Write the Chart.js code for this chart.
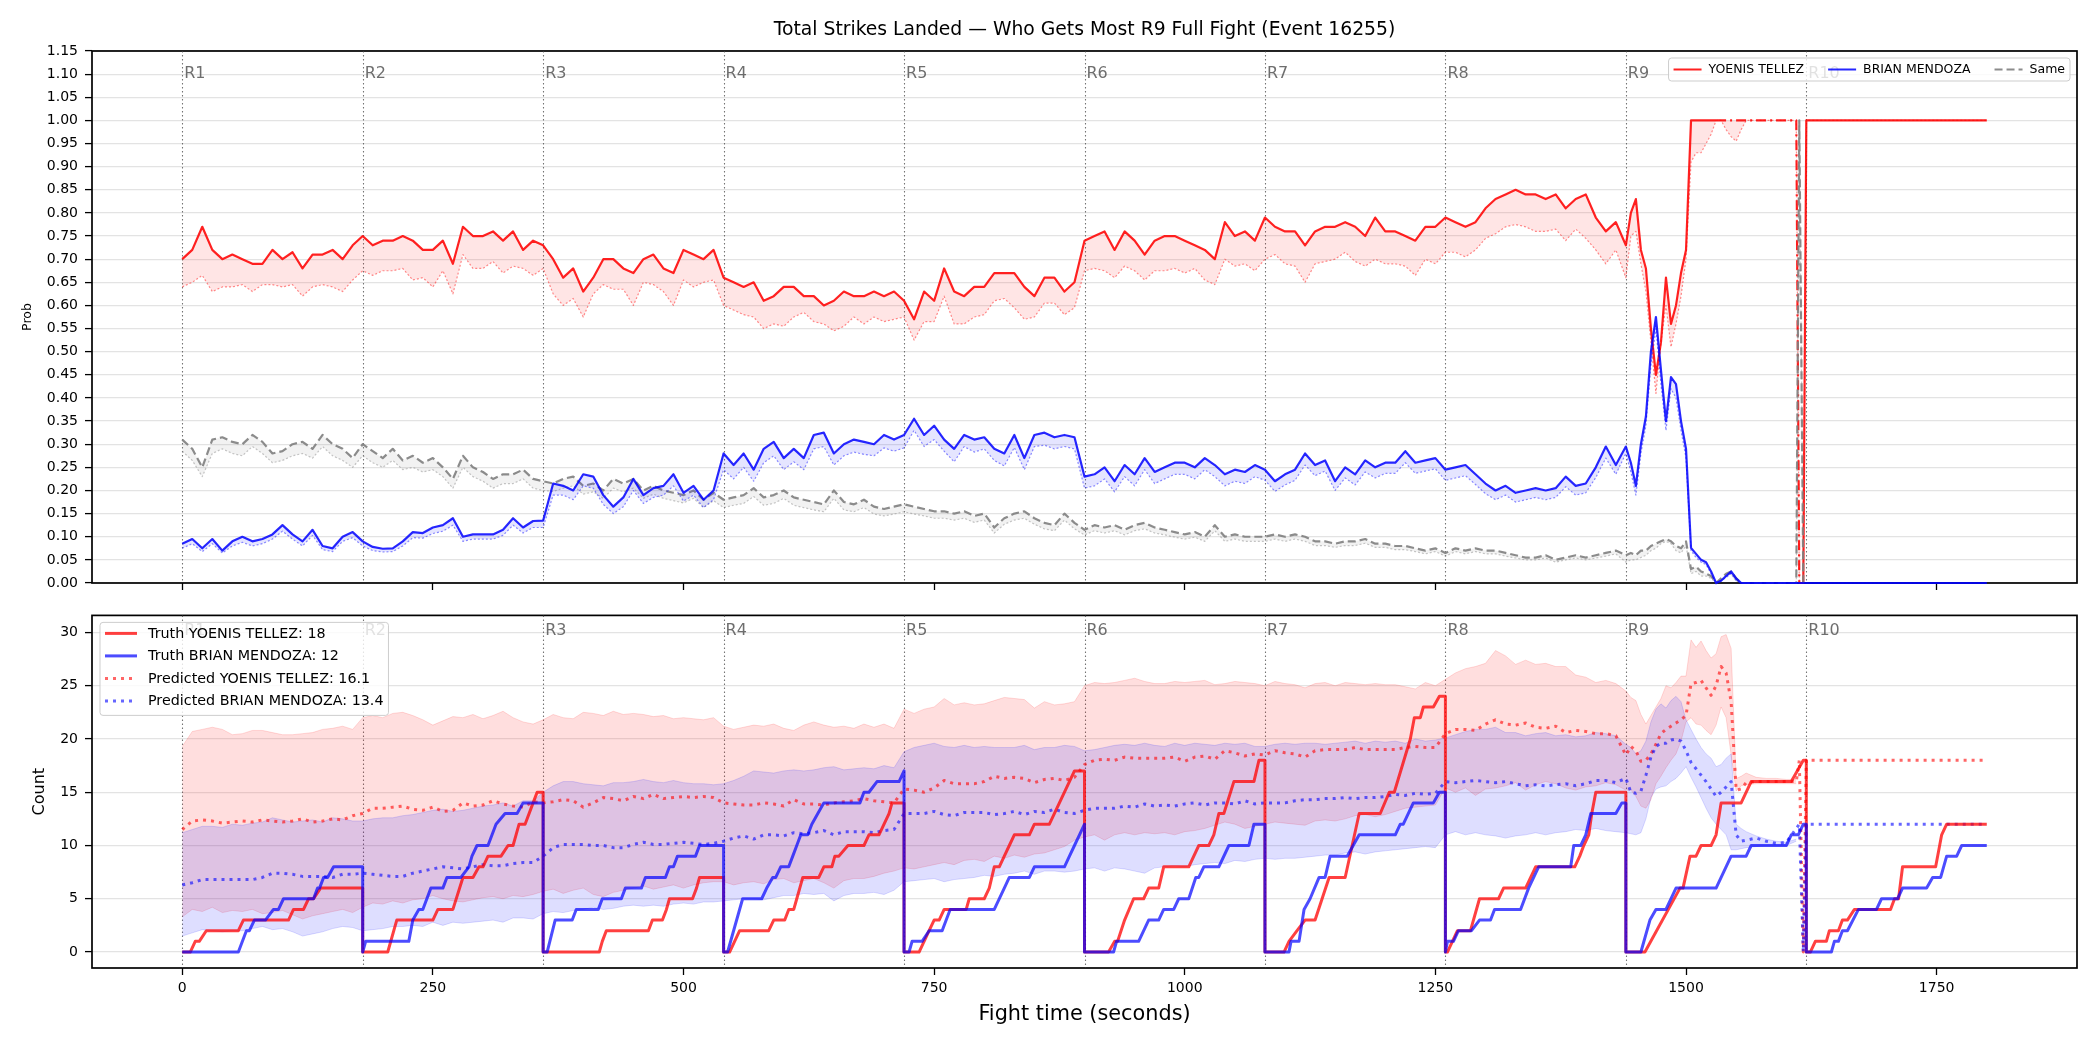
<!DOCTYPE html>
<html>
<head>
<meta charset="utf-8">
<script src="https://cdn.jsdelivr.net/npm/chart.js@4.4.1/dist/chart.umd.min.js"></script>
<style>
  html, body { margin: 0; padding: 0; background: #fff; }
  #wrap { position: relative; width: 2100px; height: 1050px; }
  canvas { position: absolute; left: 0; }
  #topChart { top: 0; }
  #botChart { top: 600px; }
</style>
</head>
<body>
<div id="wrap">
  <canvas id="topChart" width="2100" height="600" style="width:2100px;height:600px"></canvas>
  <canvas id="botChart" width="2100" height="450" style="width:2100px;height:450px"></canvas>
</div>
<script>
const $ = (s) => document.querySelector(s);

/* ---- Texts ---- */
const TITLE = "Total Strikes Landed \u2014 Who Gets Most R9 Full Fight (Event 16255)";
const TOP_LEGEND = ["YOENIS TELLEZ", "BRIAN MENDOZA", "Same"];
const BOT_LEGEND = ["Truth YOENIS TELLEZ: 18", "Truth BRIAN MENDOZA: 12", "Predicted YOENIS TELLEZ: 16.1", "Predicted BRIAN MENDOZA: 13.4"];
const ROUND_T = [0, 180, 360, 540, 720, 900, 1080, 1260, 1440, 1620];
const ROUND_NAMES = ["R1", "R2", "R3", "R4", "R5", "R6", "R7", "R8", "R9", "R10"];
const X_TICKS = [0, 250, 500, 750, 1000, 1250, 1500, 1750];
const TOP_Y_TICKS = [0, 0.05, 0.1, 0.15, 0.2, 0.25, 0.3, 0.35, 0.4, 0.45, 0.5, 0.55, 0.6, 0.65, 0.7, 0.75, 0.8, 0.85, 0.9, 0.95, 1.0, 1.05, 1.1, 1.15];
const BOT_Y_TICKS = [0, 5, 10, 15, 20, 25, 30];

/* ---- Sample times (seconds) shared by sampled series ---- */
const T = [
  0,10,20,30,40,50,60,70,80,90,100,110,120,130,140,150,160,170,
  180,190,200,210,220,230,240,250,260,270,280,290,300,310,320,330,340,350,
  360,370,380,390,400,410,420,430,440,450,460,470,480,490,500,510,520,530,
  540,550,560,570,580,590,600,610,620,630,640,650,660,670,680,690,700,710,
  720,730,740,750,760,770,780,790,800,810,820,830,840,850,860,870,880,890,
  900,910,920,930,940,950,960,970,980,990,1000,1010,1020,1030,1040,1050,1060,1070,
  1080,1090,1100,1110,1120,1130,1140,1150,1160,1170,1180,1190,1200,1210,1220,1230,1240,1250,
  1260,1270,1280,1290,1300,1310,1320,1330,1340,1350,1360,1370,1380,1390,1400,1410,1420,1430,
  1440,1445,1450,1455,1460,1465,1470,1475,1480,1485,1490,1495,1500,1505,1510,1515,1520,1525,1530,1535,1540,1545,1550,1555,1560,
  1570,1580,1590,1600,1610,1613,1617,1620,1800
];

/* ---- Top panel: probabilities ---- */
const P_RED = [
  0.70,0.72,0.77,0.72,0.70,0.71,0.70,0.69,0.69,0.72,0.70,0.715,0.68,0.71,0.71,0.72,0.70,0.73,
  0.75,0.73,0.74,0.74,0.75,0.74,0.72,0.72,0.74,0.69,0.77,0.75,0.75,0.76,0.74,0.76,0.72,0.74,
  0.73,0.70,0.66,0.68,0.63,0.66,0.70,0.70,0.68,0.67,0.70,0.71,0.68,0.67,0.72,0.71,0.70,0.72,
  0.66,0.65,0.64,0.65,0.61,0.62,0.64,0.64,0.62,0.62,0.60,0.61,0.63,0.62,0.62,0.63,0.62,0.63,
  0.61,0.57,0.63,0.61,0.68,0.63,0.62,0.64,0.64,0.67,0.67,0.67,0.64,0.62,0.66,0.66,0.63,0.65,
  0.74,0.75,0.76,0.72,0.76,0.74,0.71,0.74,0.75,0.75,0.74,0.73,0.72,0.70,0.78,0.75,0.76,0.74,
  0.79,0.77,0.76,0.76,0.73,0.76,0.77,0.77,0.78,0.77,0.75,0.79,0.76,0.76,0.75,0.74,0.77,0.77,
  0.79,0.78,0.77,0.78,0.81,0.83,0.84,0.85,0.84,0.84,0.83,0.84,0.81,0.83,0.84,0.79,0.76,0.78,
  0.73,0.80,0.83,0.72,0.68,0.55,0.45,0.52,0.66,0.56,0.60,0.67,0.72,1,1,1,1,1,1,1,1,1,1,1,1,
  1,1,1,1,1,0,0,1,1
];
const P_RED_LO = [
  0.64,0.65,0.665,0.63,0.64,0.64,0.645,0.63,0.645,0.645,0.64,0.645,0.62,0.64,0.645,0.64,0.63,0.655,
  0.675,0.665,0.675,0.675,0.68,0.655,0.66,0.64,0.675,0.625,0.71,0.68,0.68,0.695,0.67,0.685,0.68,0.665,
  0.68,0.625,0.60,0.615,0.575,0.625,0.645,0.635,0.635,0.60,0.65,0.645,0.63,0.60,0.655,0.64,0.65,0.655,
  0.60,0.59,0.58,0.575,0.55,0.56,0.555,0.575,0.585,0.565,0.56,0.545,0.555,0.575,0.56,0.575,0.565,0.57,
  0.575,0.525,0.565,0.565,0.62,0.56,0.56,0.575,0.58,0.61,0.615,0.595,0.57,0.575,0.605,0.605,0.58,0.595,
  0.675,0.68,0.675,0.66,0.685,0.675,0.655,0.675,0.675,0.68,0.67,0.68,0.655,0.645,0.70,0.685,0.69,0.675,
  0.70,0.71,0.69,0.685,0.65,0.69,0.695,0.70,0.715,0.695,0.685,0.70,0.69,0.69,0.685,0.665,0.70,0.69,
  0.715,0.715,0.705,0.72,0.745,0.755,0.77,0.775,0.77,0.76,0.76,0.765,0.74,0.765,0.745,0.72,0.69,0.72,
  0.66,0.75,0.76,0.69,0.63,0.52,0.41,0.52,0.60,0.51,0.56,0.62,0.70,0.91,0.93,0.93,0.95,0.97,1,1,0.98,0.965,0.955,0.98,1,
  1,1,1,1,1,0,0,1,1
];
const P_BLUE = [
  0.085,0.095,0.075,0.095,0.07,0.09,0.10,0.09,0.095,0.105,0.125,0.105,0.09,0.115,0.08,0.075,0.10,0.11,
  0.09,0.078,0.074,0.075,0.09,0.11,0.108,0.12,0.125,0.14,0.10,0.105,0.105,0.105,0.115,0.14,0.12,0.134,
  0.135,0.215,0.21,0.20,0.235,0.23,0.19,0.165,0.185,0.225,0.19,0.205,0.21,0.235,0.195,0.21,0.18,0.20,
  0.28,0.255,0.28,0.245,0.29,0.305,0.27,0.29,0.27,0.32,0.325,0.28,0.30,0.31,0.305,0.30,0.32,0.31,
  0.32,0.355,0.32,0.34,0.31,0.29,0.32,0.31,0.315,0.29,0.28,0.32,0.27,0.32,0.325,0.315,0.32,0.315,
  0.23,0.235,0.25,0.22,0.255,0.235,0.27,0.24,0.25,0.26,0.26,0.25,0.27,0.255,0.235,0.245,0.24,0.255,
  0.245,0.22,0.235,0.245,0.28,0.255,0.265,0.22,0.25,0.235,0.265,0.25,0.26,0.26,0.285,0.26,0.265,0.27,
  0.245,0.25,0.255,0.235,0.215,0.20,0.21,0.195,0.20,0.205,0.20,0.205,0.23,0.21,0.215,0.25,0.295,0.255,
  0.295,0.26,0.21,0.30,0.36,0.50,0.575,0.46,0.35,0.445,0.43,0.35,0.29,0.076,0.063,0.05,0.045,0.025,0,0.005,0.015,0.025,0.01,0,0,
  0,0,0,0,0,0,0,0,0
];
const P_BLUE_LO = [
  0.075,0.085,0.068,0.085,0.065,0.08,0.088,0.08,0.085,0.095,0.112,0.095,0.08,0.103,0.072,0.068,0.09,0.098,
  0.08,0.07,0.067,0.068,0.08,0.098,0.097,0.107,0.112,0.125,0.09,0.095,0.095,0.095,0.103,0.125,0.108,0.12,
  0.12,0.19,0.19,0.18,0.21,0.205,0.17,0.15,0.165,0.20,0.172,0.185,0.19,0.21,0.177,0.19,0.163,0.18,
  0.245,0.225,0.25,0.22,0.26,0.275,0.245,0.262,0.245,0.29,0.295,0.255,0.275,0.283,0.278,0.275,0.292,0.285,
  0.292,0.33,0.295,0.31,0.285,0.262,0.295,0.283,0.29,0.265,0.253,0.293,0.245,0.295,0.298,0.29,0.295,0.29,
  0.205,0.21,0.225,0.197,0.23,0.21,0.245,0.215,0.225,0.235,0.235,0.225,0.245,0.23,0.21,0.22,0.215,0.23,
  0.222,0.198,0.212,0.222,0.255,0.232,0.242,0.2,0.227,0.212,0.24,0.227,0.237,0.237,0.26,0.237,0.242,0.247,
  0.222,0.227,0.232,0.213,0.193,0.18,0.19,0.175,0.18,0.185,0.18,0.185,0.208,0.19,0.195,0.228,0.27,0.235,
  0.28,0.24,0.19,0.28,0.34,0.47,0.55,0.43,0.33,0.42,0.40,0.33,0.27,0.07,0.055,0.045,0.04,0.02,0,0.005,0.012,0.02,0.005,0,0,
  0,0,0,0,0,0,0,0,0
];
const P_SAME = [
  0.31,0.29,0.25,0.31,0.315,0.305,0.30,0.32,0.305,0.28,0.285,0.30,0.305,0.29,0.32,0.30,0.29,0.27,
  0.30,0.285,0.27,0.29,0.265,0.275,0.26,0.27,0.25,0.225,0.275,0.25,0.24,0.225,0.235,0.235,0.245,0.225,
  0.22,0.215,0.225,0.23,0.21,0.215,0.20,0.225,0.215,0.225,0.20,0.21,0.20,0.195,0.19,0.20,0.18,0.195,
  0.18,0.185,0.19,0.205,0.185,0.19,0.20,0.185,0.18,0.175,0.17,0.20,0.175,0.17,0.18,0.165,0.16,0.165,
  0.17,0.165,0.16,0.155,0.155,0.15,0.155,0.145,0.15,0.12,0.14,0.15,0.155,0.14,0.13,0.125,0.15,0.13,
  0.115,0.125,0.12,0.125,0.115,0.125,0.13,0.12,0.115,0.11,0.105,0.11,0.10,0.125,0.10,0.105,0.10,0.10,
  0.10,0.105,0.10,0.105,0.10,0.09,0.09,0.085,0.09,0.09,0.095,0.085,0.085,0.08,0.08,0.075,0.07,0.075,
  0.065,0.075,0.07,0.075,0.07,0.07,0.065,0.06,0.055,0.055,0.06,0.05,0.055,0.06,0.055,0.06,0.065,0.07,
  0.06,0.065,0.06,0.07,0.07,0.08,0.085,0.09,0.095,0.09,0.08,0.075,0.09,0.03,0.035,0.025,0.02,0.015,0,0.01,0.02,0.025,0.01,0,0,
  0,0,0,0,0,1,0,null,null
];
const P_SAME_LO = [
  0.285,0.265,0.23,0.28,0.29,0.28,0.275,0.295,0.28,0.26,0.265,0.275,0.28,0.27,0.295,0.275,0.265,0.25,
  0.275,0.26,0.25,0.265,0.245,0.25,0.24,0.245,0.23,0.205,0.25,0.23,0.22,0.205,0.215,0.215,0.225,0.205,
  0.2,0.198,0.205,0.21,0.192,0.197,0.183,0.205,0.197,0.205,0.183,0.192,0.183,0.178,0.173,0.183,0.163,0.178,
  0.163,0.168,0.172,0.187,0.168,0.172,0.183,0.168,0.163,0.158,0.154,0.183,0.158,0.154,0.163,0.149,0.145,0.149,
  0.154,0.149,0.145,0.14,0.14,0.136,0.14,0.131,0.136,0.108,0.127,0.136,0.14,0.127,0.117,0.113,0.136,0.117,
  0.104,0.113,0.108,0.113,0.104,0.113,0.117,0.108,0.104,0.099,0.095,0.099,0.09,0.113,0.09,0.095,0.09,0.09,
  0.09,0.095,0.09,0.095,0.09,0.081,0.081,0.077,0.081,0.081,0.086,0.077,0.077,0.072,0.072,0.068,0.063,0.068,
  0.058,0.068,0.063,0.068,0.063,0.063,0.058,0.054,0.05,0.05,0.054,0.045,0.05,0.054,0.05,0.054,0.058,0.063,
  0.045,0.05,0.05,0.055,0.06,0.07,0.075,0.085,0.09,0.085,0.07,0.065,0.08,0.02,0.025,0.015,0.015,0.01,0,0.005,0.015,0.02,0.005,0,0,
  0,0,0,0,0,1,0,null,null
];

/* ---- Bottom panel: predicted counts and bands ---- */
const PRED_RED = [
  11.5,12.3,12.4,12.3,12.1,12.2,12.3,12.2,12.4,12.3,12.2,12.3,12.5,12.2,12.3,12.5,12.4,12.8,
  13.0,13.5,13.5,13.6,13.7,13.4,13.3,13.6,13.2,13.3,14.0,13.7,13.8,14.2,13.9,13.7,13.6,14.1,
  14.0,14.1,14.3,14.2,13.6,14.0,14.5,14.4,14.2,14.6,14.4,14.8,14.4,14.5,14.6,14.5,14.6,14.5,
  14.0,13.9,13.8,13.8,14.0,13.9,13.7,14.3,13.9,13.9,13.8,14.0,14.1,14.2,14.4,14.2,14.1,14.0,
  15.3,15.2,15.0,15.4,16.1,15.8,15.8,15.8,16.0,16.5,16.3,16.4,16.3,15.9,16.2,16.3,16.1,16.4,
  17.6,18.0,18.1,18.0,18.3,18.2,18.2,18.2,18.2,18.3,17.9,18.3,18.4,18.1,18.9,18.7,18.4,18.6,
  18.5,18.9,18.7,18.6,18.3,18.9,19.0,19.0,19.0,19.2,19.0,19.0,19.0,19.0,19.2,19.3,19.2,19.2,
  20.5,20.9,20.9,20.8,21.4,21.8,21.4,21.3,21.5,21.1,21.0,21.2,20.6,20.8,20.7,20.5,20.5,20.3,
  18.5,19.3,18.9,17.9,18.0,18.6,19.5,20.5,20.9,21.2,21.5,21.8,22.2,25.2,25.3,25.5,24.8,24.1,25.0,26.8,26.2,23.5,15.2,15.3,15.9,
  16.0,16.0,16.0,16.0,16.0,18,0,18,18
];
const PRED_BLUE = [
  6.3,6.5,6.8,6.8,6.8,6.8,6.8,6.8,7.0,7.4,7.4,7.3,7.1,7.1,7.1,7.0,7.3,7.3,
  7.4,7.3,7.2,7.1,7.1,7.4,7.6,7.8,8.0,7.9,7.8,8.0,8.2,8.1,8.1,8.3,8.4,8.4,
  9.0,9.8,10.1,10.1,10.1,10.0,10.0,9.8,9.8,10.1,10.3,10.1,10.1,10.2,10.3,10.2,10.1,10.2,
  10.4,10.7,10.9,10.6,11.0,11.0,10.9,11.2,11.1,11.2,11.4,11.0,11.3,11.3,11.3,11.2,11.4,11.5,
  13.0,13.0,13.0,13.2,12.9,12.8,13.1,13.1,13.1,12.9,13.0,13.2,12.9,13.2,13.1,13.4,13.1,13.0,
  13.3,13.5,13.5,13.5,13.7,13.6,13.9,13.7,13.8,13.7,13.9,14.0,13.8,14.0,14.0,13.9,14.2,13.9,
  14.0,14.0,14.0,14.2,14.3,14.3,14.4,14.4,14.5,14.4,14.5,14.5,14.6,14.8,14.7,14.9,14.8,14.9,
  16.0,15.9,16.0,16.1,16.0,15.9,16.0,15.8,15.6,15.7,15.6,15.7,15.8,15.6,15.8,16.1,16.1,15.9,
  16.3,15.0,14.9,15.1,16.6,18.3,19.3,19.6,19.6,19.9,20.0,19.8,18.9,17.8,17.2,16.6,16.0,15.3,14.6,15.0,15.5,16.0,11.0,10.4,10.5,
  10.7,10.4,10.2,10.3,11.6,12,0,12,12
];
const BAND_RED_HI = [
  19.3,20.7,20.9,21.1,20.9,20.4,20.5,20.8,20.8,20.6,20.4,20.4,20.5,20.6,20.9,21.0,21.2,20.9,
  22.0,22.2,22.0,22.4,22.5,22.2,21.8,21.3,21.7,22.1,22.0,22.3,21.9,22.2,22.6,22.0,21.6,21.4,
  21.8,22.3,22.0,21.9,22.5,22.4,22.2,22.6,22.3,22.4,22.3,22.1,22.2,21.9,22.0,21.9,21.8,22.0,
  21.2,20.9,21.1,21.3,21.2,21.4,21.0,20.8,21.3,21.6,21.3,21.1,21.2,21.0,21.4,21.1,21.4,21.0,
  22.8,22.4,22.8,23.0,23.8,23.2,23.4,23.2,23.3,23.6,23.9,23.8,23.7,22.9,23.5,23.2,23.3,23.5,
  25.0,25.3,25.2,25.3,25.5,25.7,25.4,25.2,25.2,25.4,25.3,25.4,25.5,25.1,25.2,25.4,25.3,25.2,
  25.0,25.4,25.2,25.1,24.8,25.2,25.3,25.0,25.3,25.2,25.1,25.2,25.1,25.1,24.9,24.7,25.3,25.0,
  25.6,26.2,26.6,26.8,27.1,28.3,27.8,27.0,27.4,27.0,27.1,26.8,26.8,26.0,25.8,25.3,25.5,25.2,
  24.5,23.9,23.6,22.3,21.4,22.2,23.0,23.8,25.0,24.8,25.3,25.9,25.9,29.3,28.6,29.2,28.3,27.6,28.0,29.6,29.8,28.5,16.3,16.5,16.8,
  16.4,16.3,16.3,16.2,16.2,null,null,null,null
];
const BAND_RED_LO = [
  3.3,4.0,3.8,4.2,3.7,3.9,3.8,4.0,3.6,3.7,3.9,3.5,3.1,3.4,3.6,3.8,4.0,3.7,
  4.2,4.6,4.5,4.8,4.6,4.9,5.0,5.3,5.0,4.8,4.7,4.9,5.1,5.2,5.0,5.3,5.2,5.4,
  5.7,5.9,5.5,5.8,6.0,5.4,5.2,5.6,5.8,6.0,6.2,5.9,6.1,6.3,6.0,6.3,6.5,6.6,
  6.6,6.3,6.5,6.6,6.4,6.8,6.9,6.5,6.7,6.9,6.5,6.0,6.7,6.9,6.9,7.1,7.4,7.6,
  7.9,7.8,8.0,8.2,8.4,8.2,8.6,8.7,8.5,9.0,8.8,9.1,8.9,9.2,9.3,9.6,9.9,10.5,
  10.8,11.0,10.5,11.0,11.2,11.0,11.2,11.1,11.2,11.0,11.3,11.4,11.6,11.9,12.2,12.0,11.6,11.8,
  12.0,12.2,12.1,12.0,11.9,12.3,12.4,12.3,12.5,12.8,12.9,12.7,12.9,13.2,13.5,13.6,13.7,13.8,
  15.4,15.0,15.4,14.7,15.3,15.4,15.6,15.9,15.2,15.7,16.0,15.8,15.4,15.2,15.5,15.6,15.9,15.7,
  15.2,15.2,14.6,13.7,13.5,14.3,15.8,16.5,17.3,18.0,18.6,19.8,21.6,22.0,21.4,21.3,20.8,20.4,21.3,23.0,22.0,18.5,15.1,15.6,15.7,
  15.8,15.8,15.8,15.8,15.8,null,null,null,null
];
const BAND_BLUE_HI = [
  11.2,11.5,11.8,11.8,11.7,12.0,11.9,12.1,12.2,12.6,12.4,12.2,12.3,12.4,12.2,12.6,12.5,12.3,
  12.3,12.5,12.6,12.6,12.8,12.9,13.1,13.3,13.4,13.2,13.3,13.5,13.7,13.8,14.0,13.7,14.2,14.2,
  15.0,15.6,16.0,16.0,15.8,15.7,15.6,15.9,15.9,16.0,16.2,16.0,15.9,16.1,15.9,15.8,15.8,15.7,
  15.8,16.1,16.5,17.0,16.9,16.8,17.0,17.1,17.0,17.1,17.3,17.4,17.1,17.2,17.3,17.2,17.5,17.3,
  18.8,19.2,19.4,19.6,19.3,19.2,19.4,19.2,19.3,19.2,19.2,19.2,19.4,19.0,19.2,19.2,19.4,19.3,
  18.9,19.0,19.2,19.4,19.5,19.4,19.6,19.4,19.3,19.6,19.4,19.6,19.5,19.4,19.6,19.5,19.6,19.3,
  19.3,19.5,19.6,19.5,19.6,19.6,19.5,19.6,19.7,19.8,19.6,19.8,19.7,19.8,19.6,20.0,19.8,19.9,
  20.1,20.4,20.7,20.9,20.9,21.1,20.6,20.6,20.3,20.5,20.6,20.3,20.4,20.2,20.3,20.6,20.5,20.3,
  19.5,19.2,18.6,18.9,19.8,21.6,22.8,23.3,22.9,23.6,24.0,23.5,21.8,20.9,20.0,19.2,18.6,18.2,17.4,17.6,18.2,18.6,12.0,11.6,11.3,
  10.9,10.6,10.4,10.3,10.6,null,null,null,null
];
const BAND_BLUE_LO = [
  1.5,1.8,2.1,2.0,1.9,2.0,2.0,2.2,2.4,2.1,2.2,1.9,1.5,1.7,1.9,2.2,2.4,2.3,
  2.0,2.1,2.2,2.4,2.4,2.5,2.4,2.8,2.5,2.8,2.7,2.8,2.9,3.0,2.8,3.2,3.2,3.1,
  3.6,3.8,3.7,3.9,4.0,4.2,4.0,4.1,4.3,4.4,4.3,4.4,4.3,4.5,4.6,4.5,4.7,4.7,
  4.8,4.9,5.0,5.0,4.9,5.1,5.3,5.3,5.5,5.4,5.5,4.8,5.3,5.5,5.5,5.6,5.4,5.8,
  6.6,6.7,6.8,6.9,6.6,6.8,6.9,7.0,7.2,7.1,7.3,7.4,7.6,7.3,7.6,7.6,7.5,7.6,
  7.8,7.9,7.6,7.9,7.8,7.6,7.4,7.9,8.0,8.1,8.0,8.2,8.3,8.4,8.3,8.6,8.5,8.7,
  8.8,8.7,8.8,8.8,8.9,9.0,9.1,9.1,9.3,9.4,9.2,9.4,9.5,9.6,9.7,9.8,9.9,9.8,
  11.0,11.3,11.0,11.2,11.0,10.9,10.7,10.9,11.0,11.2,11.0,11.2,11.3,11.5,11.4,11.6,11.4,11.3,
  11.2,11.1,11.0,11.2,12.5,14.5,15.3,15.5,15.6,16.0,16.3,16.8,17.4,16.4,15.5,14.5,13.5,12.6,12.0,11.5,11.0,9.6,9.6,9.7,9.8,
  9.9,10.0,10.0,10.0,10.4,null,null,null,null
];

/* ---- Bottom panel: truth counts per round, [time, count] corners ---- */
const TRUTH_RED = [
  [0,0],[8,0],[13,1],[17,1],[24,2],[56,2],[61,3],[106,3],[111,4],[121,4],[126,5],[131,5],[138,6],[180,6],[180,0],
  [205,0],[214,3],[250,3],[255,4],[270,4],[280,7],[290,7],[296,8],[300,8],[305,9],[318,9],[325,10],[330,10],[333,11],[336,12],[342,12],[350,14],[354,15],[360,15],[360,0],
  [416,0],[419,1],[423,2],[465,2],[469,3],[479,3],[483,4],[486,5],[509,5],[513,6],[516,7],[540,7],[540,0],
  [546,0],[556,2],[585,2],[590,3],[601,3],[605,4],[610,4],[613,5],[616,6],[619,7],[635,7],[640,8],[648,8],[651,9],[655,9],[664,10],[680,10],[685,11],[695,11],[705,13],[708,14],[720,14],[720,0],
  [735,0],[745,2],[750,3],[755,3],[760,4],[782,4],[785,5],[800,5],[805,6],[810,8],[815,8],[820,9],[825,10],[830,11],[845,11],[850,12],[865,12],[890,17],[900,17],[900,0],
  [924,0],[930,1],[933,1],[940,3],[949,5],[959,5],[964,6],[974,6],[979,8],[1004,8],[1014,10],[1024,10],[1029,11],[1034,13],[1039,13],[1049,16],[1069,16],[1074,18],[1080,18],[1080,0],
  [1099,0],[1104,1],[1112,2],[1120,3],[1130,3],[1137,5],[1144,7],[1160,7],[1167,10],[1174,13],[1195,13],[1204,15],[1209,15],[1225,20],[1229,22],[1235,22],[1238,23],[1248,23],[1254,24],[1260,24],[1260,0],
  [1262,0],[1267,1],[1272,2],[1285,2],[1294,5],[1313,5],[1318,6],[1340,6],[1350,8],[1389,8],[1394,9],[1398,10],[1403,11],[1406,13],[1410,15],[1440,15],[1440,0],
  [1459,0],[1494,6],[1497,6],[1504,9],[1510,9],[1515,10],[1525,10],[1530,11],[1535,14],[1555,14],[1565,16],[1605,16],[1617,18],[1620,18],[1620,0],
  [1624,0],[1629,1],[1640,1],[1643,2],[1652,2],[1656,3],[1661,3],[1668,4],[1704,4],[1708,5],[1712,5],[1716,8],[1749,8],[1753,10],[1755,11],[1760,12],[1800,12]
];
const TRUTH_BLUE = [
  [0,0],[56,0],[64,2],[67,2],[72,3],[83,3],[91,4],[96,4],[101,5],[131,5],[135,6],[137,6],[141,7],[145,7],[151,8],[180,8],[180,0],
  [183,1],[226,1],[230,3],[236,4],[240,4],[248,6],[260,6],[264,7],[278,7],[286,8],[289,9],[294,10],[305,10],[313,12],[322,13],[334,13],[340,14],[360,14],[360,0],
  [364,0],[372,3],[389,3],[393,4],[415,4],[419,5],[438,5],[442,6],[458,6],[462,7],[482,7],[486,8],[490,8],[494,9],[512,9],[516,10],[540,10],[540,0],
  [544,0],[559,5],[578,5],[583,6],[589,7],[592,7],[597,8],[605,8],[609,9],[613,10],[617,11],[624,11],[628,12],[634,13],[640,14],[676,14],[680,15],[685,15],[693,16],[715,16],[720,17],[720,0],
  [725,0],[728,1],[738,1],[745,2],[758,2],[766,4],[810,4],[820,6],[825,7],[845,7],[850,8],[880,8],[885,9],[890,10],[895,11],[900,12],[900,0],
  [929,0],[932,1],[954,1],[964,3],[974,3],[979,4],[989,4],[994,5],[1004,5],[1011,7],[1014,7],[1019,8],[1034,8],[1044,10],[1064,10],[1069,12],[1080,12],[1080,0],
  [1104,0],[1106,1],[1114,1],[1119,4],[1125,5],[1134,7],[1140,7],[1145,9],[1162,9],[1174,11],[1210,11],[1215,12],[1218,12],[1228,14],[1248,14],[1254,15],[1260,15],[1260,0],
  [1262,1],[1268,1],[1273,2],[1286,2],[1294,3],[1305,3],[1309,4],[1335,4],[1343,6],[1353,8],[1385,8],[1388,10],[1395,10],[1400,11],[1405,13],[1430,13],[1436,14],[1440,14],[1440,0],
  [1455,0],[1464,3],[1470,4],[1480,4],[1490,6],[1530,6],[1545,9],[1560,9],[1565,10],[1600,10],[1605,11],[1612,11],[1617,12],[1620,12],[1620,0],
  [1645,0],[1648,1],[1652,1],[1656,2],[1661,2],[1672,4],[1690,4],[1695,5],[1711,5],[1716,6],[1740,6],[1746,7],[1754,7],[1760,9],[1770,9],[1775,10],[1800,10]
];

/* ---- Style ---- */
const FONT = "'DejaVu Sans', 'Liberation Sans', sans-serif";
Chart.defaults.font.family = FONT;
Chart.defaults.color = "#000";

const C = {
  red: "rgba(255,0,0,0.87)",
  redLo: "rgba(255,0,0,0.45)",
  redFill: "rgba(255,0,0,0.10)",
  blue: "rgba(0,0,255,0.85)",
  blueLo: "rgba(0,0,255,0.45)",
  blueFill: "rgba(0,0,255,0.10)",
  gray: "rgba(128,128,128,0.9)",
  grayLo: "rgba(128,128,128,0.45)",
  grayFill: "rgba(128,128,128,0.10)",
  truthRed: "rgba(255,0,0,0.75)",
  truthBlue: "rgba(0,0,255,0.70)",
  predRed: "rgba(255,0,0,0.60)",
  predBlue: "rgba(0,0,255,0.60)",
  bandRed: "rgba(255,0,0,0.13)",
  bandRedEdge: "rgba(255,0,0,0.14)",
  bandBlue: "rgba(0,0,255,0.13)",
  bandBlueEdge: "rgba(0,0,255,0.14)",
  grid: "rgba(0,0,0,0.11)",
};

const series = (ys) => T.map((t, i) => ({ x: t, y: ys[i] }));
const corners = (arr) => arr.map(([x, y]) => ({ x, y }));

function lineDs(label, data, color, width, extra = {}) {
  return {
    label, data,
    borderColor: color,
    backgroundColor: color,
    borderWidth: width,
    pointRadius: 0,
    tension: 0,
    fill: false,
    spanGaps: false,
    borderJoinStyle: "round",
    clip: 3,
    ...extra,
  };
}

/* ---------- Shared drawing helpers ---------- */

function drawRounds(chart, labelTop) {
  const { ctx, chartArea: a, scales: { x } } = chart;
  ctx.save();
  ctx.strokeStyle = "rgba(70,70,70,0.75)";
  ctx.lineWidth = 1.1;
  ctx.setLineDash([1.5, 2.5]);
  ROUND_T.forEach((t) => {
    const px = Math.round(x.getPixelForValue(t)) + 0.5;
    ctx.beginPath();
    ctx.moveTo(px, a.top);
    ctx.lineTo(px, a.bottom);
    ctx.stroke();
  });
  ctx.setLineDash([]);
  ctx.fillStyle = "rgba(85,85,85,0.85)";
  ctx.font = `16px ${FONT}`;
  ctx.textBaseline = "top";
  ctx.textAlign = "left";
  ROUND_T.forEach((t, i) => ctx.fillText(ROUND_NAMES[i], x.getPixelForValue(t) + 2, a.top + labelTop));
  ctx.restore();
}

function drawFrame(ctx, a) {
  ctx.save();
  ctx.strokeStyle = "#000";
  ctx.lineWidth = 1.7;
  ctx.strokeRect(a.left, a.top, a.right - a.left, a.bottom - a.top);
  ctx.restore();
}

function legendBox(ctx, x, y, w, h) {
  ctx.beginPath();
  if (ctx.roundRect) ctx.roundRect(x, y, w, h, 3); else ctx.rect(x, y, w, h);
  ctx.fillStyle = "rgba(255,255,255,0.8)";
  ctx.fill();
  ctx.strokeStyle = "rgba(200,200,200,0.9)";
  ctx.lineWidth = 1;
  ctx.stroke();
}

function handle(ctx, x0, x1, y, color, width, dash) {
  ctx.save();
  ctx.strokeStyle = color;
  ctx.lineWidth = width;
  ctx.setLineDash(dash || []);
  ctx.beginPath();
  ctx.moveTo(x0, y);
  ctx.lineTo(x1, y);
  ctx.stroke();
  ctx.restore();
}

/* ---------- Top panel plugin ---------- */

const TOP_HANDLES = [
  { color: C.red, width: 2, dash: null },
  { color: C.blue, width: 2, dash: null },
  { color: C.gray, width: 2, dash: [8, 4] },
];

const topDecor = {
  id: "topDecor",
  beforeDatasetsDraw(chart) {
    drawFrame(chart.ctx, chart.chartArea);
    drawRounds(chart, 15);
  },
  afterDraw(chart) {
    const { ctx, chartArea: a } = chart;

    // legend, one row in the upper right corner
    ctx.save();
    ctx.font = `12.5px ${FONT}`;
    const hl = 28, gap = 7, colGap = 24, pad = 5;
    const widths = TOP_LEGEND.map((s) => ctx.measureText(s).width);
    const total = pad * 2 + widths.reduce((s, w) => s + hl + gap + w, 0) + colGap * (TOP_LEGEND.length - 1);
    const right = a.right - 7, left = right - total, top = a.top + 7, h = 23;
    legendBox(ctx, left, top, total, h);
    let cx = left + pad;
    const cy = top + h / 2;
    TOP_LEGEND.forEach((s, i) => {
      const hd = TOP_HANDLES[i];
      handle(ctx, cx, cx + hl, cy, hd.color, hd.width, hd.dash);
      ctx.fillStyle = "#000";
      ctx.textBaseline = "middle";
      ctx.fillText(s, cx + hl + gap, cy + 0.5);
      cx += hl + gap + widths[i] + colGap;
    });
    ctx.restore();

    // title and y label
    ctx.save();
    ctx.fillStyle = "#000";
    ctx.textAlign = "center";
    ctx.textBaseline = "middle";
    ctx.font = `18.75px ${FONT}`;
    ctx.fillText(TITLE, (a.left + a.right) / 2, 30);
    ctx.translate(28, (a.top + a.bottom) / 2);
    ctx.rotate(-Math.PI / 2);
    ctx.font = `12.5px ${FONT}`;
    ctx.fillText("Prob", 0, 0);
    ctx.restore();
  },
};

/* ---------- Bottom panel plugin ---------- */

const BOT_HANDLES = [
  { color: C.truthRed, width: 3, dash: null },
  { color: C.truthBlue, width: 3, dash: null },
  { color: C.predRed, width: 3, dash: [3, 5] },
  { color: C.predBlue, width: 3, dash: [3, 5] },
];

const botDecor = {
  id: "botDecor",
  beforeDatasetsDraw(chart) {
    drawFrame(chart.ctx, chart.chartArea);
    drawRounds(chart, 7);
  },
  afterDraw(chart) {
    const { ctx, chartArea: a } = chart;

    // legend, stacked in the upper left corner
    ctx.save();
    ctx.font = `14.3px ${FONT}`;
    const hl = 32, gap = 11, pad = 5, rowH = 22.5;
    const maxW = Math.max(...BOT_LEGEND.map((s) => ctx.measureText(s).width));
    const left = a.left + 8, top = a.top + 7;
    const w = pad * 2 + hl + gap + maxW, h = rowH * BOT_LEGEND.length + 3;
    legendBox(ctx, left, top, w, h);
    BOT_LEGEND.forEach((s, i) => {
      const cy = top + 11 + i * rowH;
      const hd = BOT_HANDLES[i];
      handle(ctx, left + pad, left + pad + hl, cy, hd.color, hd.width, hd.dash);
      ctx.fillStyle = "#000";
      ctx.textBaseline = "middle";
      ctx.fillText(s, left + pad + hl + gap, cy + 0.5);
    });
    ctx.restore();

    // axis labels
    ctx.save();
    ctx.fillStyle = "#000";
    ctx.textAlign = "center";
    ctx.textBaseline = "middle";
    ctx.font = `20.8px ${FONT}`;
    ctx.fillText("Fight time (seconds)", (a.left + a.right) / 2, 415);
    ctx.translate(40, (a.top + a.bottom) / 2);
    ctx.rotate(-Math.PI / 2);
    ctx.font = `16px ${FONT}`;
    ctx.fillText("Count", 0, 0);
    ctx.restore();
  },
};

/* ---------- Scale helpers ---------- */

function xScale(showLabels, height) {
  return {
    type: "linear",
    min: -90,
    max: 1890,
    afterBuildTicks: (axis) => { axis.ticks = X_TICKS.map((v) => ({ value: v })); },
    afterFit: (s) => { s.height = height; },
    ticks: { display: showLabels, font: { size: 14 }, padding: 5, maxRotation: 0, autoSkip: false, color: "#000", callback: (v) => String(v) },
    grid: { display: true, drawOnChartArea: false, drawTicks: true, tickLength: 7, tickColor: "#000", tickWidth: 1.3 },
    border: { display: false },
  };
}

function yScale(min, max, tickVals, fmt) {
  return {
    type: "linear",
    min, max,
    afterBuildTicks: (axis) => { axis.ticks = tickVals.map((v) => ({ value: v })); },
    afterFit: (s) => { s.width = 92; },
    ticks: { font: { size: 14 }, padding: 7, autoSkip: false, color: "#000", callback: fmt },
    grid: { color: C.grid, lineWidth: 1.2, drawTicks: true, tickLength: 7, tickColor: "#000", tickWidth: 1.3 },
    border: { display: false },
  };
}

/* ---------- Top chart ---------- */

new Chart($("#topChart"), {
  type: "line",
  data: {
    datasets: [
      lineDs("BRIAN MENDOZA", series(P_BLUE), C.blue, 2.2, { fill: { target: 1 }, backgroundColor: C.blueFill }),
      lineDs("BRIAN MENDOZA low", series(P_BLUE_LO), C.blueLo, 1.2, { borderDash: [2, 2] }),
      lineDs("Same", series(P_SAME), C.gray, 2.2, { borderDash: [8, 4], fill: { target: 3 }, backgroundColor: C.grayFill }),
      lineDs("Same low", series(P_SAME_LO), C.grayLo, 1.2, { borderDash: [2, 2] }),
      lineDs("YOENIS TELLEZ", series(P_RED), C.red, 2.2, {
        fill: { target: 5 },
        backgroundColor: C.redFill,
        segment: {
          borderDash: (c) => (c.p0.parsed.x >= 1530 && c.p1.parsed.x <= 1613 ? [10, 4, 2, 4] : undefined),
        },
      }),
      lineDs("YOENIS TELLEZ low", series(P_RED_LO), C.redLo, 1.2, { borderDash: [2, 2] }),
    ],
  },
  options: {
    responsive: false,
    animation: false,
    devicePixelRatio: 1,
    events: [],
    layout: { padding: { top: 51, right: 23, bottom: 0, left: 0 } },
    plugins: { legend: { display: false }, tooltip: { enabled: false }, title: { display: false } },
    scales: {
      x: xScale(false, 17),
      y: yScale(0, 1.15, TOP_Y_TICKS, (v) => Number(v).toFixed(2)),
    },
  },
  plugins: [topDecor],
});

/* ---------- Bottom chart ---------- */

new Chart($("#botChart"), {
  type: "line",
  data: {
    datasets: [
      lineDs("Truth BRIAN MENDOZA", corners(TRUTH_BLUE), C.truthBlue, 3),
      lineDs("Truth YOENIS TELLEZ", corners(TRUTH_RED), C.truthRed, 3),
      lineDs("Predicted BRIAN MENDOZA", series(PRED_BLUE), C.predBlue, 3, { borderDash: [3, 5], borderCapStyle: "butt" }),
      lineDs("Predicted YOENIS TELLEZ", series(PRED_RED), C.predRed, 3, { borderDash: [3, 5], borderCapStyle: "butt" }),
      lineDs("Blue band high", series(BAND_BLUE_HI), C.bandBlueEdge, 1, { fill: { target: 5 }, backgroundColor: C.bandBlue }),
      lineDs("Blue band low", series(BAND_BLUE_LO), C.bandBlueEdge, 1),
      lineDs("Red band high", series(BAND_RED_HI), C.bandRedEdge, 1, { fill: { target: 7 }, backgroundColor: C.bandRed }),
      lineDs("Red band low", series(BAND_RED_LO), C.bandRedEdge, 1),
    ],
  },
  options: {
    responsive: false,
    animation: false,
    devicePixelRatio: 1,
    events: [],
    layout: { padding: { top: 15, right: 23, bottom: 0, left: 0 } },
    plugins: { legend: { display: false }, tooltip: { enabled: false }, title: { display: false } },
    scales: {
      x: xScale(true, 82),
      y: yScale(-1.5, 31.6, BOT_Y_TICKS, (v) => String(v)),
    },
  },
  plugins: [botDecor],
});
</script>
</body>
</html>
